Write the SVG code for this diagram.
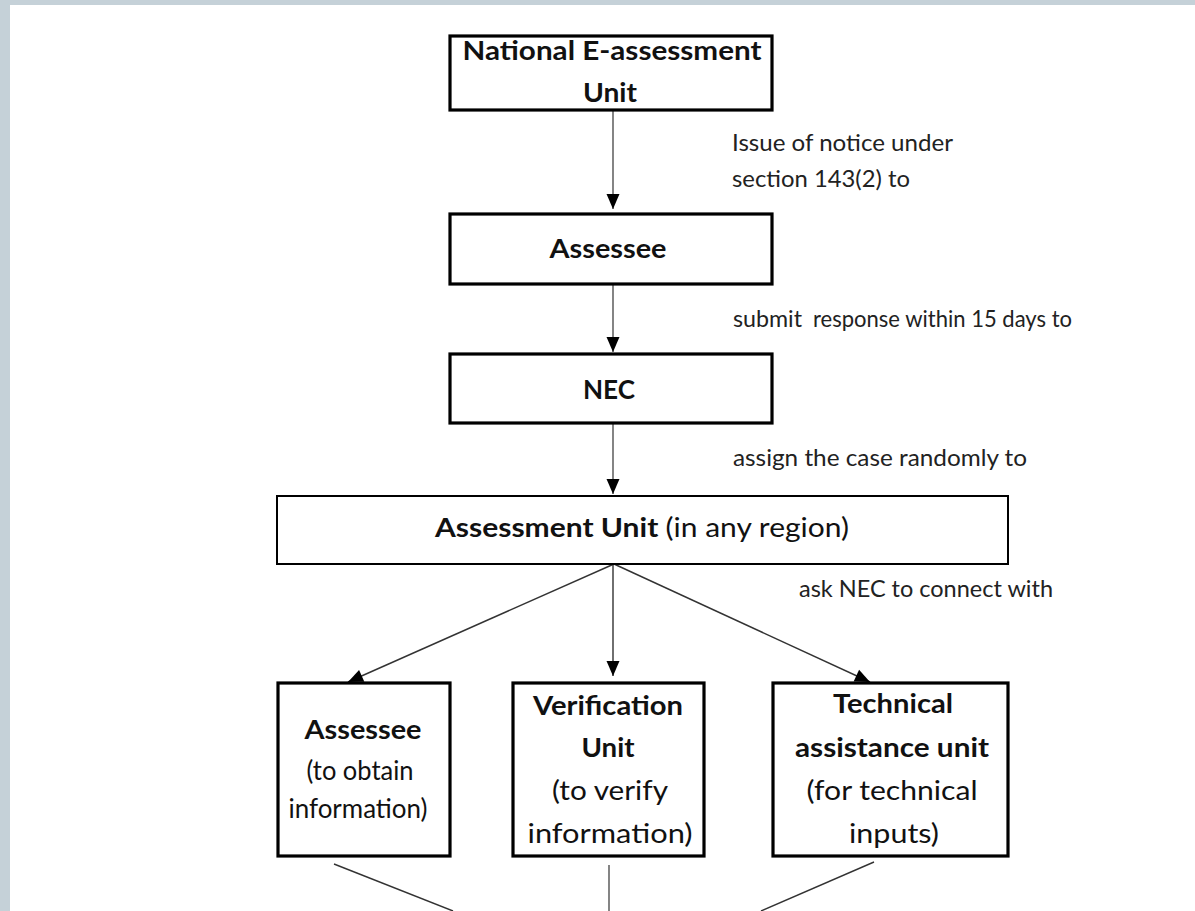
<svg xmlns="http://www.w3.org/2000/svg" width="1195" height="911" viewBox="0 0 1195 911">
<style>
.box{fill:#fff;stroke:#000;stroke-width:3.2}
.thin{fill:#fff;stroke:#000;stroke-width:2}
.b{font-family:Lato,"Liberation Sans",sans-serif;font-weight:bold;fill:#111;text-anchor:middle;font-size:26px}
.r{font-family:Lato,"Liberation Sans",sans-serif;fill:#111;text-anchor:middle;font-size:27px}
.lbl{font-family:Lato,"Liberation Sans",sans-serif;fill:#222;font-size:23px}
.v{stroke:#666;stroke-width:1.6;fill:none}
.d{stroke:#333;stroke-width:1.4;fill:none}
</style>
<defs>
<marker id="ah" markerUnits="userSpaceOnUse" markerWidth="16" markerHeight="14" viewBox="0 -7 16 14" refX="15" refY="0" orient="auto" overflow="visible">
<path d="M0,-6.5 L15,0 L0,6.5 z" fill="#000"/>
</marker>
</defs>
<rect x="0" y="0" width="1195" height="911" fill="#c5d1d8"/>
<rect x="10" y="5" width="1185" height="906" fill="#fff"/>

<g id="connectors">
<line class="v" x1="613" y1="110" x2="613" y2="209" marker-end="url(#ah)"/>
<line class="v" x1="613" y1="284" x2="613" y2="352" marker-end="url(#ah)"/>
<line class="v" x1="613" y1="423" x2="613" y2="494" marker-end="url(#ah)"/>
<line class="d" x1="614" y1="564" x2="348" y2="682" marker-end="url(#ah)"/>
<line class="d" x1="613" y1="564" x2="613" y2="676" marker-end="url(#ah)"/>
<line class="d" x1="614" y1="564" x2="870" y2="682" marker-end="url(#ah)"/>
<line class="d" x1="334" y1="864" x2="453" y2="911"/>
<line class="v" x1="609" y1="865" x2="609" y2="911"/>
<line class="d" x1="874" y1="862" x2="761" y2="911"/>
<text class="lbl" x="732" y="151" textLength="221" lengthAdjust="spacingAndGlyphs">Issue of notice under</text>
<text class="lbl" x="732" y="187" textLength="178" lengthAdjust="spacingAndGlyphs">section 143(2) to</text>
<text class="lbl" x="733" y="327" textLength="69" lengthAdjust="spacingAndGlyphs">submit</text>
<text class="lbl" x="813" y="327" textLength="259" lengthAdjust="spacingAndGlyphs">response within 15 days to</text>
<text class="lbl" x="733" y="466" textLength="294" lengthAdjust="spacingAndGlyphs">assign the case randomly to</text>
<text class="lbl" x="799" y="597" textLength="254" lengthAdjust="spacingAndGlyphs">ask NEC to connect with</text>
</g>

<g id="n-neau">
<rect class="box" x="450" y="36" width="322" height="74"/>
<text class="b" x="612" y="60" textLength="299" lengthAdjust="spacingAndGlyphs">National E-assessment</text>
<text class="b" x="610" y="102" textLength="54" lengthAdjust="spacingAndGlyphs">Unit</text>
</g>
<g id="n-assessee">
<rect class="box" x="450" y="214" width="322" height="70"/>
<text class="b" x="608" y="258" textLength="117" lengthAdjust="spacingAndGlyphs">Assessee</text>
</g>
<g id="n-nec">
<rect class="box" x="450" y="354" width="322" height="69"/>
<text class="b" x="609" y="399" textLength="52" lengthAdjust="spacingAndGlyphs">NEC</text>
</g>
<g id="n-au">
<rect class="thin" x="277" y="496" width="731" height="68"/>
<text class="b" x="642" y="537" textLength="414" lengthAdjust="spacingAndGlyphs">Assessment Unit <tspan font-weight="normal">(in any region)</tspan></text>
</g>
<g id="n-assessee2">
<rect class="box" x="278" y="683" width="172" height="173"/>
<text class="b" x="363" y="739" textLength="117" lengthAdjust="spacingAndGlyphs">Assessee</text>
<text class="r" x="360" y="780" font-size="23" textLength="107" lengthAdjust="spacingAndGlyphs">(to obtain</text>
<text class="r" x="358" y="818" font-size="23" textLength="139" lengthAdjust="spacingAndGlyphs">information)</text>
</g>
<g id="n-verify">
<rect class="box" x="513" y="683" width="191" height="173"/>
<text class="b" x="608" y="715" textLength="150" lengthAdjust="spacingAndGlyphs">Verification</text>
<text class="b" x="608" y="757" textLength="53" lengthAdjust="spacingAndGlyphs">Unit</text>
<text class="r" x="610" y="800" textLength="116" lengthAdjust="spacingAndGlyphs">(to verify</text>
<text class="r" x="610" y="843" textLength="165" lengthAdjust="spacingAndGlyphs">information)</text>
</g>
<g id="n-tech">
<rect class="box" x="773" y="683" width="235" height="173"/>
<text class="b" x="893" y="713" textLength="120" lengthAdjust="spacingAndGlyphs">Technical</text>
<text class="b" x="892" y="757" textLength="194" lengthAdjust="spacingAndGlyphs">assistance unit</text>
<text class="r" x="892" y="800" textLength="171" lengthAdjust="spacingAndGlyphs">(for technical</text>
<text class="r" x="894" y="843" textLength="90" lengthAdjust="spacingAndGlyphs">inputs)</text>
</g>
</svg>
